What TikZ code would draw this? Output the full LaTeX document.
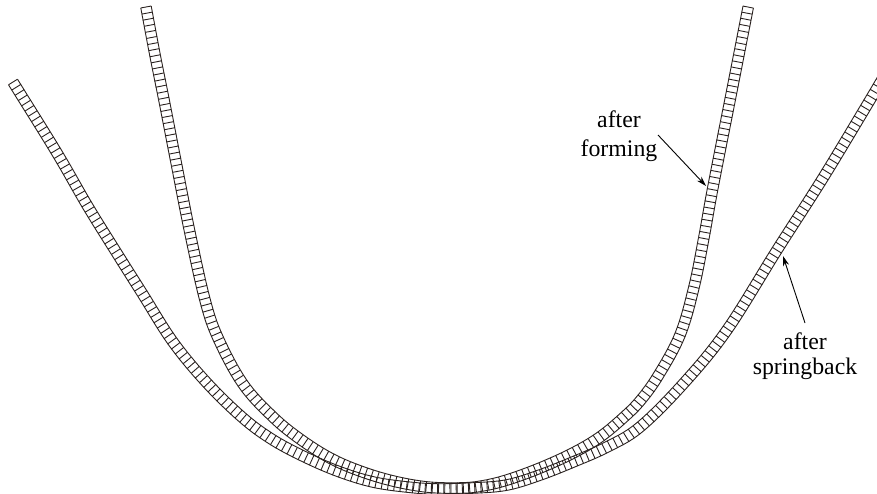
\documentclass[tikz,border=0pt]{standalone}
\usepackage{fontspec}
\setmainfont{Liberation Serif}
\usetikzlibrary{arrows.meta}
\definecolor{ink}{HTML}{2A2220}
\tikzset{
  mesh/.style={ink,line width=0.9pt,line join=round},
  lab/.style={align=center,inner sep=0pt,text=black,font=\fontsize{23.8}{#1}\selectfont},
  pointer/.style={-{Stealth[length=10pt,width=6pt]},line width=0.9pt,black}
}
\def\smHalf{5.3}
\def\smStep{6.2}
\newcommand\smRung[4]{%
  \pgfmathsetmacro\smLen{veclen(#3,#4)}%
  \pgfmathsetmacro\smNx{-(#4)/\smLen*\smHalf}%
  \pgfmathsetmacro\smNy{(#3)/\smLen*\smHalf}%
  \pgfmathsetmacro\smUx{#1+\smNx}\pgfmathsetmacro\smUy{#2+\smNy}%
  \pgfmathsetmacro\smVx{#1-\smNx}\pgfmathsetmacro\smVy{#2-\smNy}%
  \ifnum\smFirst=1
    \draw[mesh] (\smUx,\smUy) -- (\smVx,\smVy);
  \else
    \draw[mesh] (\smPUx,\smPUy) -- (\smUx,\smUy) -- (\smVx,\smVy) -- (\smPVx,\smPVy);
  \fi
  \xdef\smFirst{0}%
  \xdef\smPUx{\smUx}\xdef\smPUy{\smUy}\xdef\smPVx{\smVx}\xdef\smPVy{\smVy}%
}
\newcommand\stripmesh[3]{%
  \def\XS{{#2}}\def\YS{{#3}}%
  \xdef\smFirst{1}\xdef\smAcc{0}%
  \pgfmathtruncatemacro\smLast{#1-1}%
  \foreach \i in {0,...,\smLast}{%
    \pgfmathtruncatemacro\smJa{\i-1}\pgfmathtruncatemacro\smJb{\i}%
    \pgfmathtruncatemacro\smJc{\i+1}\pgfmathtruncatemacro\smJd{\i+2}%
    \pgfmathsetmacro\smBx{\XS[\smJb]}\pgfmathsetmacro\smBy{\YS[\smJb]}%
    \pgfmathsetmacro\smCx{\XS[\smJc]}\pgfmathsetmacro\smCy{\YS[\smJc]}%
    \ifnum\i=0
      \pgfmathsetmacro\smAx{2*\smBx-\smCx}\pgfmathsetmacro\smAy{2*\smBy-\smCy}%
    \else
      \pgfmathsetmacro\smAx{\XS[\smJa]}\pgfmathsetmacro\smAy{\YS[\smJa]}%
    \fi
    \ifnum\i=\smLast
      \pgfmathsetmacro\smDx{2*\smCx-\smBx}\pgfmathsetmacro\smDy{2*\smCy-\smBy}%
    \else
      \pgfmathsetmacro\smDx{\XS[\smJd]}\pgfmathsetmacro\smDy{\YS[\smJd]}%
    \fi
    \pgfmathsetmacro\kxa{\smBx}\pgfmathsetmacro\kya{\smBy}%
    \pgfmathsetmacro\kxb{0.5*(\smCx-\smAx)}\pgfmathsetmacro\kyb{0.5*(\smCy-\smAy)}%
    \pgfmathsetmacro\kxc{0.5*(2*\smAx-5*\smBx+4*\smCx-\smDx)}\pgfmathsetmacro\kyc{0.5*(2*\smAy-5*\smBy+4*\smCy-\smDy)}%
    \pgfmathsetmacro\kxd{0.5*(3*\smBx-\smAx-3*\smCx+\smDx)}\pgfmathsetmacro\kyd{0.5*(3*\smBy-\smAy-3*\smCy+\smDy)}%
    \ifnum\i=0
      \smRung{\smBx}{\smBy}{\kxb}{\kyb}%
      \xdef\smPx{\smBx}\xdef\smPy{\smBy}%
    \fi
    \foreach \k in {1,...,24}{%
      \pgfmathsetmacro\smT{\k/24}%
      \pgfmathsetmacro\smX{\kxa+\smT*(\kxb+\smT*(\kxc+\smT*\kxd))}%
      \pgfmathsetmacro\smY{\kya+\smT*(\kyb+\smT*(\kyc+\smT*\kyd))}%
      \pgfmathsetmacro\smTx{\kxb+\smT*(2*\kxc+3*\smT*\kxd)}%
      \pgfmathsetmacro\smTy{\kyb+\smT*(2*\kyc+3*\smT*\kyd)}%
      \pgfmathsetmacro\smDist{veclen(\smX-\smPx,\smY-\smPy)}%
      \pgfmathsetmacro\smNew{\smAcc+\smDist}%
      \ifdim\smNew pt<\smStep pt\relax
        \xdef\smAcc{\smNew}%
      \else
        \pgfmathsetmacro\smR{(\smNew-\smStep)/\smDist}%
        \pgfmathsetmacro\smRx{\smX-\smR*(\smX-\smPx)}%
        \pgfmathsetmacro\smRy{\smY-\smR*(\smY-\smPy)}%
        \smRung{\smRx}{\smRy}{\smTx}{\smTy}%
        \pgfmathsetmacro\smNewB{\smNew-\smStep}%
        \xdef\smAcc{\smNewB}%
      \fi
      \xdef\smPx{\smX}\xdef\smPy{\smY}%
    }%
  }%
}
\begin{document}
\begin{tikzpicture}[x=1pt,y=-1pt]
\useasboundingbox (0,0) rectangle (877,494);
\clip (0,0) rectangle (877,494);
\stripmesh{28}{146,155,164,177,190,205,218,243,273,300,330,360,393,427,460,482,507,540,573,600,623,640,658,680,694,704,713,732,748.5}{7,55,100,167,233,300,338,384,417,439,458,471,481,487,488,486,480,468,453,437,418,401,376,335,287,237,187,90,5.5}
\stripmesh{25}{13,57,87,113,142,173,207,243,273,307,340,373,407,437,473,507,540,573,607,640,684,727,777,823,870,890}{82,153,205,247,293,342,383,418,440,458,472,482,487,489,488,485,475,462,447,427,383,330,250,178,100,66}
\node[lab=29] (forming) at (619,136) {after\\forming};
\node[lab=25] (spring) at (805,356) {after\\springback};
\coordinate (formstart) at (658,135);
\coordinate (formtip) at (706,186);
\coordinate (springstart) at (805,323);
\coordinate (springtip) at (783,256);
\draw[pointer] (formstart) -- (formtip);
\draw[pointer] (springstart) -- (springtip);
\end{tikzpicture}
\end{document}
